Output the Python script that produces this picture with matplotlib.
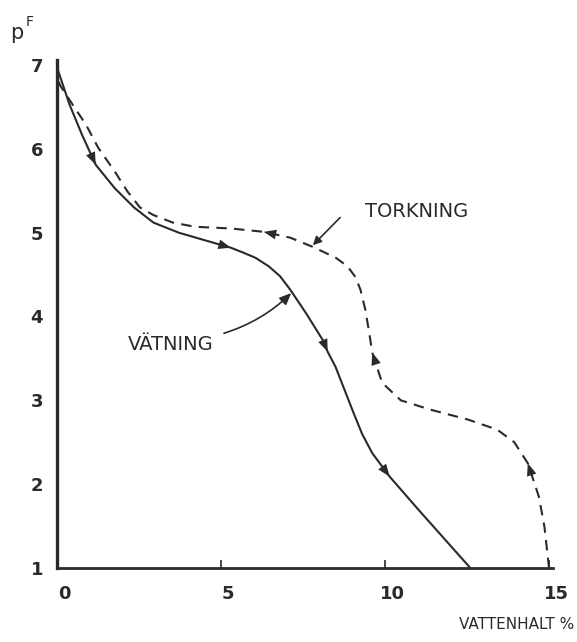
import matplotlib.pyplot as plt
import matplotlib.transforms as mtransforms

# wetting curve (VÄTNING)
wet_x = [0.0, 0.38, 0.76, 1.18, 1.76, 2.35, 2.94, 3.71, 4.5, 5.3, 5.69, 6.05, 6.45, 6.8, 7.11,
         7.59, 8.1, 8.25, 8.49, 8.8, 9.05, 9.3, 9.61, 10.14, 11.03, 12.6]
wet_y = [6.97, 6.53, 6.17, 5.81, 5.53, 5.3, 5.12, 5.0, 4.91, 4.82, 4.76, 4.7, 4.6, 4.48, 4.32,
         4.04, 3.72, 3.58, 3.4, 3.09, 2.84, 2.6, 2.37, 2.09, 1.69, 1.0]
wet_arrows = [3, 9, 17, 23]

# drying curve (TORKNING), drawn from 15 % back up to pF 7
dry_x = [15.0, 14.97, 14.86, 14.69, 14.35, 13.94, 13.42, 12.53, 11.37, 10.48, 9.91, 9.61, 9.52,
         9.4, 9.25, 9.1, 8.85, 8.5, 7.8, 7.11, 6.3, 5.3, 4.21, 3.53, 2.94, 2.53, 2.15, 1.76, 1.26,
         0.88, 0.47, 0.09, 0.0]
dry_y = [1.0, 1.1, 1.49, 1.85, 2.25, 2.5, 2.65, 2.77, 2.89, 3.0, 3.21, 3.57, 3.8,
         4.08, 4.32, 4.47, 4.6, 4.7, 4.83, 4.94, 5.01, 5.05, 5.07, 5.12, 5.21, 5.3, 5.49, 5.73,
         6.01, 6.29, 6.53, 6.76, 6.86]
dry_arrows = [4, 11, 20]

x_ticks = [0, 5, 10, 15]
y_ticks = [1, 2, 3, 4, 5, 6, 7]

ink = "#2a2a2a"

fig = plt.figure(figsize=(5.77, 6.42), dpi=100)
ax = fig.add_axes([0.0988, 0.1153, 0.8596, 0.7913])

ax.plot(wet_x, wet_y, color=ink, lw=1.5, solid_joinstyle="round")
ax.plot(dry_x, dry_y, color=ink, lw=1.5, linestyle=(0, (5, 3.5)))


def add_heads(xs, ys, idx):
    for i in idx:
        ax.annotate(
            "",
            xy=(xs[i], ys[i]),
            xytext=(xs[i - 1], ys[i - 1]),
            arrowprops=dict(
                arrowstyle="-|>,head_length=0.9,head_width=0.35",
                lw=0,
                color=ink,
                shrinkA=0,
                shrinkB=0,
            ),
        )


add_heads(wet_x, wet_y, wet_arrows)
add_heads(dry_x, dry_y, dry_arrows)

# labels with leader lines
ax.text(10.96, 5.25, "TORKNING", ha="center", va="center", fontsize=14, color=ink)
ax.annotate(
    "",
    xy=(7.8, 4.85),
    xytext=(8.63, 5.18),
    arrowprops=dict(arrowstyle="-|>,head_length=0.5,head_width=0.25", lw=1.2, color=ink,
                    shrinkA=0, shrinkB=0),
)
ax.text(3.47, 3.66, "VÄTNING", ha="center", va="center", fontsize=14, color=ink)
ax.annotate(
    "",
    xy=(7.14, 4.28),
    xytext=(5.09, 3.8),
    arrowprops=dict(arrowstyle="-|>,head_length=0.7,head_width=0.3", lw=1.2, color=ink,
                    shrinkA=0, shrinkB=0, connectionstyle="arc3,rad=0.12"),
)

ax.set_xlim(0, 15.12)
ax.set_ylim(1, 7.06)
ax.set_xticks(x_ticks)
ax.set_yticks(y_ticks)
ax.tick_params(axis="x", direction="in", length=6, width=1.2, pad=12, colors=ink,
               labelsize=13)
ax.tick_params(axis="y", length=0, pad=10, colors=ink, labelsize=13)
shift = mtransforms.ScaledTranslation(7 / 100, 0, fig.dpi_scale_trans)
for lab in ax.get_xticklabels():
    lab.set_transform(lab.get_transform() + shift)
for lab in ax.get_xticklabels() + ax.get_yticklabels():
    lab.set_fontweight("bold")

for side in ("top", "right"):
    ax.spines[side].set_visible(False)
ax.spines["left"].set_linewidth(2.4)
ax.spines["bottom"].set_linewidth(2.0)
ax.spines["left"].set_color(ink)
ax.spines["bottom"].set_color(ink)

fig.text(0.017, 0.94, "p", fontsize=15, color=ink, ha="left", va="baseline")
fig.text(0.045, 0.96, "F", fontsize=10, color=ink, ha="left", va="baseline")
fig.text(0.995, 0.015, "VATTENHALT %", fontsize=11, color=ink, ha="right", va="bottom")

fig.savefig("out.png", dpi=100, facecolor="white")
